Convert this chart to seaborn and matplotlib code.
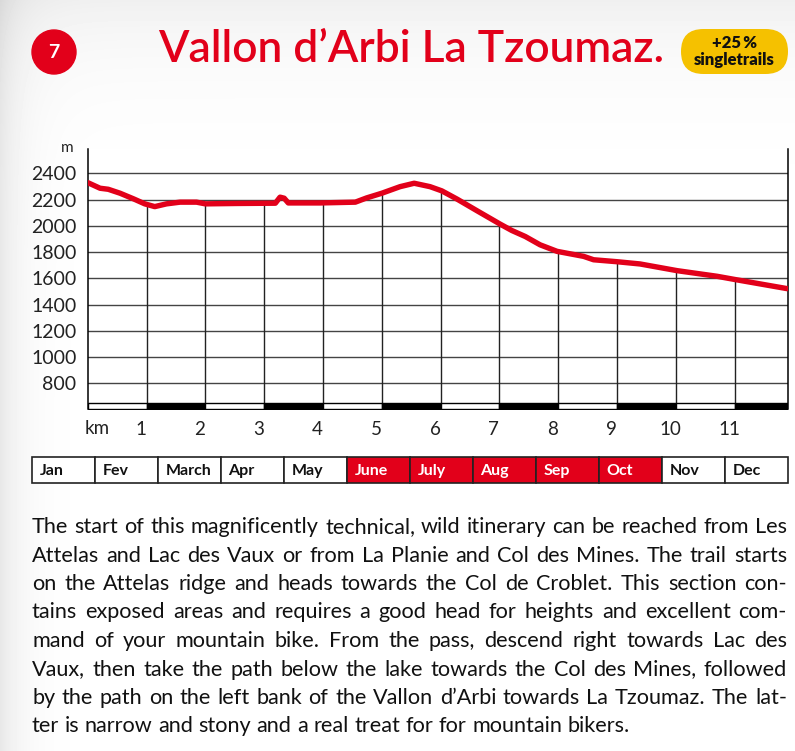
import numpy as np
import matplotlib
matplotlib.use('Agg')
import matplotlib.pyplot as plt
import seaborn as sns
from matplotlib import font_manager as fm
from matplotlib.patches import Circle, FancyBboxPatch
from matplotlib.transforms import ScaledTranslation

# ─── DATA ─────────────────────────────────────────────
dist_km = [0, 0.21, 0.35, 0.55, 0.78, 0.97, 1.14, 1.34, 1.57, 1.85, 2.0, 2.53,
           3.19, 3.27, 3.34, 3.41, 3.95, 4.55, 4.74, 5.0, 5.31, 5.55, 5.82,
           6.02, 6.28, 6.62, 7.01, 7.21, 7.44, 7.69, 7.98, 8.43, 8.60, 9.0,
           9.39, 10.02, 10.70, 11.01, 11.89]
elev_m = [2329, 2286, 2278, 2248, 2205, 2167, 2146, 2167, 2180, 2180, 2167, 2170,
          2172, 2218, 2210, 2174, 2174, 2180, 2212, 2248, 2298, 2324, 2298,
          2266, 2203, 2114, 2013, 1964, 1918, 1855, 1805, 1767, 1741, 1726,
          1709, 1658, 1615, 1590, 1521]
y_ticks = [800, 1000, 1200, 1400, 1600, 1800, 2000, 2200, 2400]
km_ticks = [1, 2, 3, 4, 5, 6, 7, 8, 9, 10, 11]
total_km = 11.9

months = ['Jan', 'Fev', 'March', 'Apr', 'May', 'June', 'July', 'Aug', 'Sep',
          'Oct', 'Nov', 'Dec']
open_months = ['June', 'July', 'Aug', 'Sep', 'Oct']

title = 'Vallon d\u2019Arbi La Tzoumaz.'
route_no = '7'
badge_lines = ['+25\u2009%', 'singletrails']
body_lines = [
    'The start of this magnificently technical, wild itinerary can be reached from Les',
    'Attelas and Lac des Vaux or from La Planie and Col des Mines. The trail starts',
    'on the Attelas ridge and heads towards the Col de Croblet. This section con-',
    'tains exposed areas and requires a good head for heights and excellent com-',
    'mand of your mountain bike. From the pass, descend right towards Lac des',
    'Vaux,  then take the path below the lake towards the Col des Mines, followed',
    'by the path on the left bank of the Vallon d\u2019Arbi towards La Tzoumaz. The lat-',
    'ter is narrow and stony and a real treat for for mountain bikers.',
]

RED = '#e2001a'
YELLOW = '#f5c100'


def pick(*names):
    for n in names:
        try:
            fm.findfont(fm.FontProperties(family=n), fallback_to_default=False)
            return n
        except Exception:
            pass
    return 'DejaVu Sans'


sns.set_theme(style='white')
BODY = pick('Lato', 'Noto Sans', 'DejaVu Sans')
plt.rcParams['font.family'] = [BODY, 'DejaVu Sans']

W, H = 795, 751
fig = plt.figure(figsize=(W / 100, H / 100), dpi=100)

# ─── BACKGROUND (pixel coordinates) ───────────────────
bg = fig.add_axes([0, 0, 1, 1], zorder=-5)
bg.set_xlim(0, W)
bg.set_ylim(H, 0)
bg.axis('off')
xx = np.arange(W)[None, :]
yy = np.arange(H)[:, None]
shade = 1 - 0.09 * np.exp(-xx / 22.0) - 0.06 * np.exp(-yy / 60.0)
bg.imshow(np.clip(shade, 0, 1), cmap='gray', vmin=0, vmax=1,
          extent=(0, W, H, 0), aspect='auto', zorder=0)

bg.add_patch(Circle((54, 52), 22, color=RED, zorder=2))
bg.text(54, 53, route_no, color='white', fontsize=14, fontweight='bold',
        ha='center', va='center', zorder=3)

fig.canvas.draw()
r = fig.canvas.get_renderer()


def text_w(s, **kw):
    t = bg.text(0, 0, s, **kw)
    w = t.get_window_extent(renderer=r).width
    t.remove()
    return w


# title fitted to the width in the reference
tw = text_w(title, fontsize=40, fontweight='semibold')
tsize = 40 * 507 / tw
bg.text(158, 49, title, fontsize=tsize, fontweight='semibold', color=RED,
        ha='left', va='center', zorder=3)

bg.add_patch(FancyBboxPatch((681, 29), 107, 45,
                            boxstyle='round,pad=0,rounding_size=22.5',
                            fc=YELLOW, ec='none', zorder=2))
bg.text(734.5, 43, badge_lines[0], fontsize=12, fontweight='heavy',
        ha='center', va='center', color='#111', zorder=3)
bg.text(734.5, 60, badge_lines[1], fontsize=12, fontweight='heavy',
        ha='center', va='center', color='#111', zorder=3)

# ─── ELEVATION PROFILE ────────────────────────────────
ax = fig.add_axes([87.7 / W, 1 - 409.5 / H, 700 / W, 260.5 / H])
ax.set_facecolor('white')
ax.set_xlim(0, total_km)
ax.set_ylim(600, 2585)

for yv in y_ticks:
    ax.axhline(yv, color='#444', lw=1, zorder=1)
tops = np.interp(km_ticks, dist_km, elev_m)
ax.vlines(km_ticks, 600, tops, color='#222', lw=1, zorder=1)

starts = np.arange(12)
widths = np.minimum(starts + 1, total_km) - starts
cols = ['black' if k % 2 else 'white' for k in starts]
ax.bar(starts, 48, bottom=600, width=widths, align='edge', color=cols,
       edgecolor='black', lw=1, zorder=2)

sns.lineplot(x=dist_km, y=elev_m, ax=ax, color=RED, lw=3.9,
             estimator=None, sort=False, zorder=4,
             solid_capstyle='round', solid_joinstyle='round')

for side in ['top', 'bottom']:
    ax.spines[side].set_visible(False)
for side in ['left', 'right']:
    ax.spines[side].set_color('black')
    ax.spines[side].set_linewidth(1.1)

ax.set_yticks(y_ticks)
ax.set_yticklabels([str(v) for v in y_ticks], fontsize=14, color='#222')
ax.set_xticks(km_ticks)
ax.set_xticklabels([str(v) for v in km_ticks], fontsize=13.5, color='#222')
ax.tick_params(axis='both', length=0)
ax.tick_params(axis='y', pad=8)
ax.tick_params(axis='x', pad=8)
for lbl in ax.get_xticklabels():
    lbl.set_transform(lbl.get_transform() +
                      ScaledTranslation(-4 / 72, 0, fig.dpi_scale_trans))
ax.set_xlabel('')
ax.set_ylabel('')
bg.text(97, 428, 'km', fontsize=13.5, color='#222', ha='center', va='center')
bg.text(67, 148, 'm', fontsize=11, color='#222', ha='center', va='center')

# ─── MONTH TABLE ──────────────────────────────────────
mx = fig.add_axes([32 / W, 1 - 483 / H, 756 / W, 26 / H])
mx.set_xlim(0, 12)
mx.set_ylim(0, 1)
mx.axis('off')
mcols = [RED if m in open_months else 'white' for m in months]
mx.bar(np.arange(12), 1, width=1, align='edge', color=mcols,
       edgecolor='#222', lw=1.2, clip_on=False)
for i, m in enumerate(months):
    mx.text(i + 0.12, 0.47, m, fontsize=11.5, fontweight='bold', va='center',
            ha='left', color='white' if m in open_months else '#111')

# ─── BODY TEXT (justified) ────────────────────────────
left, right = 32, 787
fs0 = 13.2
natural = max(text_w(l, fontsize=fs0) for l in body_lines[:-1])
fs = fs0 * (right - left) / natural * 0.995
base = 533
step = 28.5
for li, line in enumerate(body_lines):
    words = line.split()
    ws = [text_w(wd, fontsize=fs) for wd in words]
    y = base + li * step
    if li == len(body_lines) - 1:
        gap = text_w('a b', fontsize=fs) - text_w('ab', fontsize=fs)
    else:
        gap = (right - left - sum(ws)) / (len(words) - 1)
    x = left
    for wd, w in zip(words, ws):
        bg.text(x, y, wd, fontsize=fs, color='#111', ha='left',
                va='baseline', zorder=3)
        x += w + gap

fig.savefig('out.png', dpi=100)
